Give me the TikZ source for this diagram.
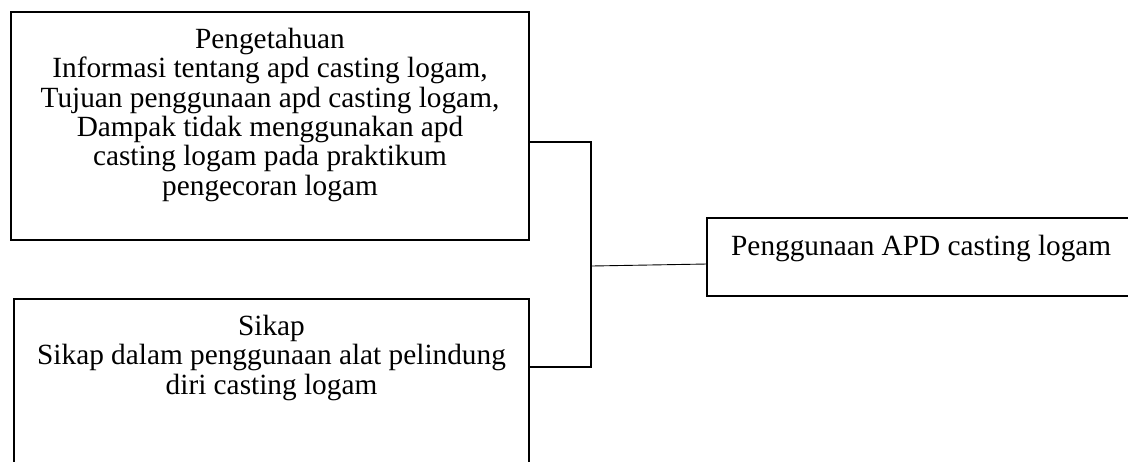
\documentclass[tikz,border=0pt]{standalone}
\usepackage{fontspec}
\setmainfont{Liberation Serif}
\begin{document}
\begin{tikzpicture}[x=1pt,y=-1pt,
  box/.style={draw=black,line width=1.3pt,inner sep=0pt,fill=none},
  txt/.style={inner sep=0pt,align=center,font=\fontsize{29.3}{29.3}\selectfont},
  link/.style={draw=black,line width=1.3pt},
  thinlink/.style={draw=black,line width=0.9pt}]
\path[use as bounding box] (0,0) rectangle (1128,461);
\clip (0,0) rectangle (1128,461);
% boxes
\node[box,minimum width=518pt,minimum height=228pt] (know) at (270,126) {};
\node[box,minimum width=515pt,minimum height=202pt] (att) at (271.5,400) {};
\node[box,minimum width=440pt,minimum height=78pt] (res) at (927,257) {};
% texts
\node[txt,anchor=north] (knowtxt) at (270,28)
  {Pengetahuan\\Informasi tentang apd casting logam,\\Tujuan penggunaan apd casting logam,\\Dampak tidak menggunakan apd\\casting logam pada praktikum\\pengecoran logam};
\node[txt,anchor=north] (atttxt) at (271.5,315)
  {Sikap\\Sikap dalam penggunaan alat pelindung\\diri casting logam};
\node[txt,anchor=base west] (restxt) at (731,255) {Penggunaan APD casting logam};
% connectors
\coordinate (jt) at (591,142);
\coordinate (jb) at (591,367);
\coordinate (jm) at (592,266);
\coordinate (rm) at (707,264);
\draw[link] (jt -| know.east) -- (jt) -- (jb) -- (jb -| att.east);
\draw[thinlink] (jm) -- (rm);
\end{tikzpicture}
\end{document}
